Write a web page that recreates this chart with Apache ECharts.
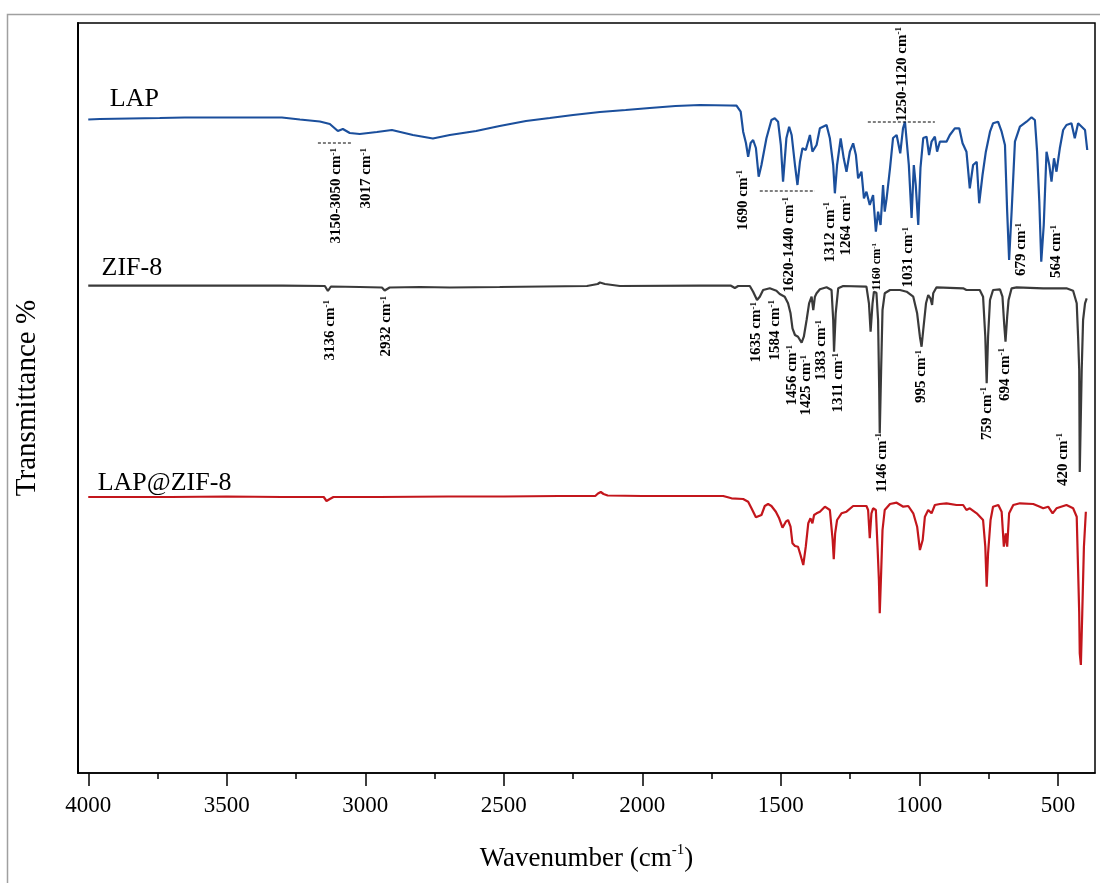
<!DOCTYPE html>
<html>
<head>
<meta charset="utf-8">
<script src="https://cdn.jsdelivr.net/npm/echarts@6/dist/echarts.min.js"></script>
<style>
html,body{margin:0;padding:0;background:#fff;}
#main{width:1100px;height:883px;}
</style>
</head>
<body>
<div id="main"></div>
<script>
// ---------- DATA ----------
const majorTicks = [4000, 3500, 3000, 2500, 2000, 1500, 1000, 500];
const minorTicks = [3750, 3250, 2750, 2250, 1750, 1250, 750];
const seriesNames = ['LAP', 'ZIF-8', 'LAP@ZIF-8'];

// [wavenumber, transmittance (a.u., offset-stacked)]
const lapData = [
[4000,653.5],[3958,654],[3850,654.5],[3742,655],[3652,655.5],[3500,655.5],[3400,655.5],[3301,655.5],
[3236,653.5],[3164,651.5],[3128,649],[3099,642],[3081,644],[3056,640],[3020,639],[2958,641],[2904,643],
[2828,638],[2756,634.5],[2695,638],[2600,642],[2515,647],[2420,652],[2334,655],[2250,658],[2153,661],
[2060,663],[1973,665],[1880,667],[1792,668],[1684,667.5],[1660,667.3],[1645,661.3],[1636,641.3],[1626,630],
[1618,616.3],[1609,630],[1600,633],[1590,625],[1580,596.3],[1570,608],[1552,634.7],[1534,653],[1522,654.7],
[1510,651.3],[1500,628],[1492,591.3],[1480,634.7],[1470,646.3],[1461,638],[1449,608],[1440,588],[1431,611.3],
[1422,624.7],[1410,623],[1395,638],[1386,621.3],[1371,628],[1359,644.7],[1335,648],[1323,634.7],[1311,608],
[1305,579.7],[1297,608],[1284,634.7],[1273,614.7],[1263,601.3],[1251,621.3],[1239,629.7],[1229,618],
[1221,594.7],[1209,601.3],[1200,574.7],[1191,581.3],[1179,568],[1167,578],[1157,541.3],[1149,561.3],
[1140,548],[1131,588],[1125,561.3],[1118,575],[1106,604.7],[1095,635],[1082,638],[1069,619.7],[1059,644.7],
[1052,651.3],[1038,608],[1028,555],[1020,608],[1013,588],[1004,548],[996,605],[986,635],[974,636.3],
[965,618],[956,631.3],[944,636.3],[936,621.3],[926,631.3],[902,631.3],[890,638],[872,644.7],[856,644.7],
[844,629.7],[830,621.3],[818,584.7],[806,608],[793,611.3],[784,569.7],[772,598],[760,621.3],[745,641.3],
[734,649.7],[716,651.3],[703,641.3],[691,628],[683,561.3],[676,513],[667,561.3],[655,631.3],[637,646.3],
[613,651.3],[595,655.7],[583,653],[575,621.3],[567,571.3],[560,511.3],[551,548],[541,621.3],[531,608],
[523,591.3],[514,614.7],[505,601.3],[493,624.7],[481,643],[469,648],[451,649.7],[439,634.7],[427,649.7],
[414,646.3],[402,643],[394,623]
];

const zifData = [
[4000,487.3],[3600,487.3],[3300,487.3],[3146,487],[3135,482],[3124,486.5],[3020,486],[2940,485.5],
[2930,482.5],[2912,485.5],[2803,486],[2695,485.5],[2515,486],[2200,487],[2161,489],[2153,490.5],[2135,489],
[2081,487],[1792,487.3],[1680,487.3],[1666,485],[1654,487],[1612,487],[1600,481.3],[1586,473],[1576,476.3],
[1564,483],[1540,484.7],[1516,482.3],[1504,479],[1486,476.3],[1474,469.7],[1465,459.7],[1458,444.7],
[1449,438],[1438,436.3],[1425,430.3],[1417,436.3],[1407,453],[1398,469.7],[1389,476.3],[1383,463],
[1377,476.3],[1371,479.7],[1359,483.7],[1335,485.7],[1317,483],[1311,453],[1308,421.3],[1302,459.7],
[1293,484.7],[1275,487],[1191,486.3],[1182,469.7],[1176,441.3],[1169,469.7],[1164,481.3],[1155,480.3],
[1149,453],[1145,384.7],[1143,339.7],[1138,403],[1133,463],[1125,479.7],[1106,483],[1070,483],[1046,481.3],
[1022,476.3],[1008,459.7],[998,436.3],[992,426.3],[986,443],[976,469.7],[968,478],[960,474.7],[954,468],
[950,479.7],[938,485.7],[842,484.7],[830,483],[782,483],[770,476.3],[762,436.3],[757,389.7],[752,436.3],
[745,473],[734,483],[709,483.7],[700,476.3],[694,449.7],[689,431.3],[683,456.3],[678,473],[667,484.7],
[649,485.7],[553,484.7],[469,484.7],[445,482.3],[432,469.7],[427,436.3],[423,403],[421,301],[414,403],
[409,453],[402,469.7],[396,474.7]
];

const lapZifData = [
[4000,276],[3700,276],[3500,276.5],[3300,276],[3150,276],[3140,272],[3135,270],[3128,274],[3115,276],
[2950,276],[2700,276.5],[2500,276.5],[2300,277],[2170,277],[2160,279.5],[2150,281],[2140,279],[2125,277.5],
[2000,277],[1900,277],[1792,277],[1708,277],[1678,274.7],[1636,274],[1618,271.3],[1606,264.7],[1590,255.7],
[1570,258],[1558,267],[1546,269],[1534,267],[1518,261.3],[1506,254.7],[1494,245.3],[1482,251.3],[1474,253],
[1465,246.3],[1458,229.7],[1449,227],[1438,226.3],[1429,218],[1419,208],[1410,226.3],[1401,249.7],
[1393,254.7],[1386,249.7],[1380,258],[1371,259.7],[1359,261.3],[1341,266.3],[1323,263],[1313,233],
[1309,213.7],[1304,239.7],[1297,253],[1281,259.7],[1263,261.3],[1239,267],[1191,267],[1185,263],
[1179,234.7],[1173,259.7],[1167,264.7],[1157,263],[1151,226.3],[1146,193],[1143,159.7],[1138,199.7],
[1133,243],[1125,263],[1106,269],[1082,270.3],[1058,266.3],[1040,267],[1022,259.7],[1008,246.3],[998,223],
[988,233],[980,256.3],[968,263],[956,259.7],[944,268],[926,269],[902,269.7],[866,268],[842,268],[830,263],
[818,264.7],[793,259.7],[770,253],[762,226.3],[757,186.3],[752,219.7],[743,253],[734,266.3],[715,268],
[703,261.3],[695,226.3],[688,239.7],[683,226.3],[676,259.7],[661,268],[637,269.7],[589,269],[565,266.3],
[553,264.7],[535,266.3],[519,259.7],[505,264.7],[469,268],[445,264.7],[432,256.3],[427,203],[423,159.7],
[421,119.7],[417,108],[412,159.7],[406,226.3],[399,261.3]
];

// Peak annotations: [label, wavenumber, level(top end of text), fontSize]
const peakLabels = [
['3150-3050', 3104, 625, 15], ['3017', 2996, 625, 15], ['1690', 1636, 603, 15],
['1620-1440', 1470, 576, 15], ['1312', 1323, 571, 15], ['1264', 1263, 578, 15],
['1160', 1154, 530, 12], ['1031', 1040, 546, 15], ['1250-1120', 1064, 746, 15],
['679', 631, 550, 15], ['564', 505, 548, 15],
['3136', 3128, 473, 15], ['2932', 2923, 477, 15], ['1635', 1588, 471, 15], ['1584', 1522, 473, 15],
['1456', 1458, 428, 15], ['1425', 1407, 418, 15], ['1383', 1353, 453, 15], ['1311', 1293, 420, 15],
['1146', 1136, 340, 15], ['995', 992, 423, 15], ['759', 757, 386, 15], ['694', 691, 425, 15],
['420', 481, 340, 15]
];
// Range brackets (dashed): [from, to, level]
const rangeBrackets = [[3171, 3045, 630], [1576, 1377, 582], [1186, 944, 651]];
// Curve name labels: [name, wavenumber, level]
const curveLabels = [['LAP', 3922, 674], ['ZIF-8', 3952, 505], ['LAP@ZIF-8', 3966, 290]];

// ---------- CHART ----------
const FONT = "'Liberation Serif', 'Times New Roman', serif";
const colors = ['#1b4f9c', '#3a3a3a', '#c3161c'];
const chart = echarts.init(document.getElementById('main'));

const option = {
  animation: false,
  backgroundColor: '#fff',
  grid: { left: 78, right: 5, top: 23, bottom: 110, show: true, borderColor: '#000', borderWidth: 1.5, backgroundColor: 'transparent' },
  xAxis: [{
    type: 'value', min: 366, max: 4037, inverse: true,
    axisLine: { show: true, lineStyle: { color: '#000', width: 1.5 } },
    axisTick: { show: true, inside: false, length: 13, customValues: majorTicks, lineStyle: { color: '#000', width: 1.5 } },
    axisLabel: { show: true, customValues: majorTicks, margin: 21, fontFamily: FONT, fontSize: 23, color: '#000',
      formatter: v => String(v) },
    splitLine: { show: false },
    name: '{t|Wavenumber (cm}{s|-1}{t|)}',
    nameLocation: 'middle', nameGap: 70,
    nameTextStyle: { rich: {
      t: { fontFamily: FONT, fontSize: 27, color: '#000', verticalAlign: 'bottom', lineHeight: 29 },
      s: { fontFamily: FONT, fontSize: 15, color: '#000', verticalAlign: 'top', lineHeight: 15 }
    } }
  }, {
    type: 'value', min: 366, max: 4037, inverse: true, position: 'bottom',
    axisLine: { show: false },
    axisTick: { show: true, inside: false, length: 6, customValues: minorTicks, lineStyle: { color: '#000', width: 1.5 } },
    axisLabel: { show: false },
    splitLine: { show: false }
  }],
  yAxis: {
    type: 'value', min: 0, max: 750,
    axisLine: { show: true, lineStyle: { color: '#000', width: 2 } },
    axisTick: { show: false }, axisLabel: { show: false }, splitLine: { show: false },
    name: 'Transmittance %', nameLocation: 'middle', nameRotate: 90, nameGap: 36,
    nameTextStyle: { fontFamily: FONT, fontSize: 29, color: '#000' }
  },
  series: [lapData, zifData, lapZifData].map((d, i) => ({
    name: seriesNames[i], type: 'line', data: d, xAxisIndex: 0, yAxisIndex: 0,
    showSymbol: false, symbol: 'none', smooth: false,
    lineStyle: { color: colors[i], width: 2.2 }
  }))
};
chart.setOption(option);

const toPx = (w, v) => chart.convertToPixel({ xAxisIndex: 0, yAxisIndex: 0 }, [w, v]);
const gfx = [];
gfx.push({ type: 'rect', silent: true, z: -1,
  shape: { x: 7.5, y: 14.5, width: 1200, height: 1000 },
  style: { fill: 'none', stroke: '#a0a0a0', lineWidth: 1.5 } });

peakLabels.forEach(p => {
  const [x, y] = toPx(p[1], p[2]);
  const fs = p[3];
  gfx.push({ type: 'text', x: x, y: y, rotation: Math.PI / 2, silent: true, z: 10,
    style: {
      text: '{n|' + p[0] + ' cm}{s|-1}', align: 'right', verticalAlign: 'middle',
      fontFamily: FONT, fontWeight: 'bold', fill: '#000',
      rich: {
        n: { fontFamily: FONT, fontWeight: 'bold', fontSize: fs, fill: '#000', verticalAlign: 'bottom', lineHeight: fs },
        s: { fontFamily: FONT, fontWeight: 'bold', fontSize: Math.round(fs * 0.6), fill: '#000', verticalAlign: 'top', lineHeight: Math.round(fs * 0.6) }
      }
    } });
});

rangeBrackets.forEach(r => {
  const [x1, y1] = toPx(r[0], r[2]);
  const [x2] = toPx(r[1], r[2]);
  gfx.push({ type: 'line', silent: true, z: 10,
    shape: { x1: x1, y1: y1, x2: x2, y2: y1 },
    style: { stroke: '#000', lineWidth: 1, lineDash: [3, 2] } });
});

curveLabels.forEach(c => {
  const [x, y] = toPx(c[1], c[2]);
  gfx.push({ type: 'text', x: x, y: y, silent: true, z: 10,
    style: { text: c[0], fontFamily: FONT, fontSize: 26, fill: '#000', align: 'left', verticalAlign: 'middle' } });
});

chart.setOption({ graphic: gfx });
</script>
</body>
</html>
